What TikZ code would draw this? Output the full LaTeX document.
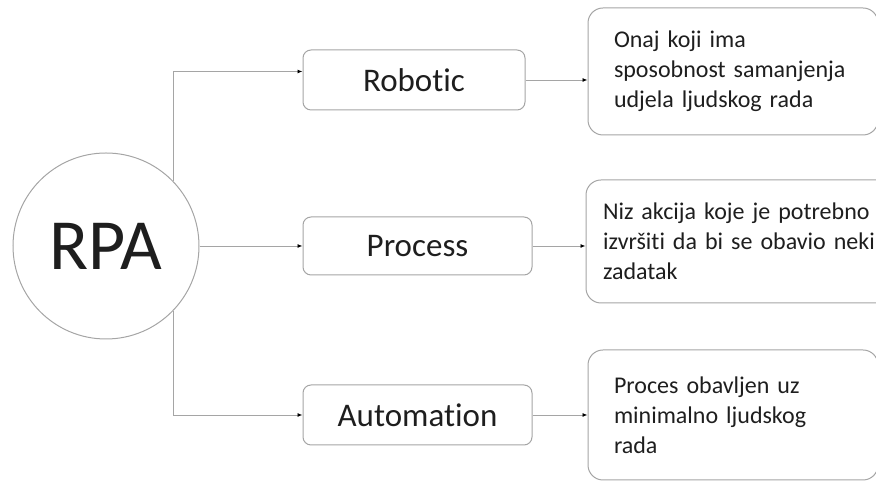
\documentclass[tikz,border=0pt]{standalone}
\usepackage{fontspec}
\setmainfont{Carlito}[Ligatures=NoCommon,WordSpace=0.8]
\usetikzlibrary{arrows.meta}
\definecolor{edgegray}{RGB}{165,165,165}
\definecolor{textdark}{RGB}{30,30,30}
\begin{document}
\begin{tikzpicture}[x=1pt,y=1pt,
    hub/.style={circle,draw=edgegray,line width=1pt,minimum size=186pt,inner sep=0pt,
      text=textdark,font=\fontsize{72}{72}\selectfont},
    termbox/.style={draw=edgegray,line width=1pt,rounded corners=8pt,minimum height=60pt,
      text=textdark,font=\fontsize{33}{33}\selectfont},
    infobox/.style={draw=edgegray,line width=1pt,rounded corners=15pt,align=left,
      text=textdark,font=\fontsize{24}{30}\selectfont},
    link/.style={draw=edgegray,line width=0.9pt,-{Latex[length=5pt,width=4pt,color=black]}}]
  \useasboundingbox (0,0) rectangle (876,481);
  \draw
    (106,235) node[hub] (rpa){RPA}
    (414,401) node[termbox,minimum width=222pt] (robotic){Robotic}
    (417.5,235) node[termbox,minimum width=229pt,minimum height=58pt] (process){Process}
    (417.5,66) node[termbox,minimum width=229pt] (automation){Automation}
    (733,409.5) node[infobox,text width=238pt,minimum width=290pt,minimum height=127pt] (robinfo)
      {Onaj koji ima\\sposobnost samanjenja\\udjela ljudskog rada}
    (743,239.5) node[infobox,text width=280pt,minimum width=314pt,minimum height=123pt] (procinfo)
      {Niz akcija koje je potrebno\\izvršiti da bi se obavio neki\\zadatak}
    (733,66) node[infobox,text width=238pt,minimum width=290pt,minimum height=130pt] (autoinfo)
      {Proces obavljen uz\\minimalno ljudskog\\rada};
  \begin{scope}[link]
    \draw (rpa.44) |- ([yshift=8.5pt]robotic.west);
    \draw (rpa) -- (process);
    \draw (rpa.-44) |- (automation.west);
    \draw (robotic) -- (robotic -| robinfo.west);
    \draw (process) -- (process -| procinfo.west);
    \draw (automation) -- (automation -| autoinfo.west);
  \end{scope}
\end{tikzpicture}
\end{document}
